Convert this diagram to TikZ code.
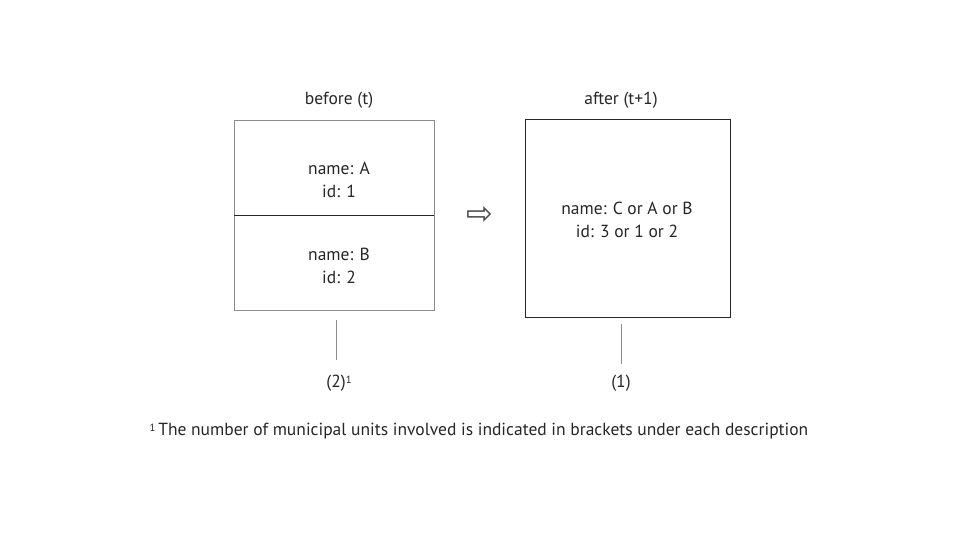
\documentclass[tikz,border=0pt]{standalone}
\usepackage{fontspec}
\setmainfont{PT Sans}
\newfontfamily\symfont{DejaVu Sans}
\begin{document}
\begin{tikzpicture}[x=1pt,y=-1pt,
  lbl/.style={inner sep=0pt,font=\fontsize{17.5}{23}\selectfont,align=center,text=black!85},
  graybox/.style={draw=black!45,line width=0.8pt},
  darkbox/.style={draw=black!85,line width=1pt},
  tick/.style={draw=black!45,line width=0.7pt}]
\useasboundingbox (0,0) rectangle (960,540);
% left box
\node[graybox,minimum width=200pt,minimum height=190pt,inner sep=0pt] (L) at (334,215) {};
\coordinate (Lw) at (234,215);
\coordinate (Le) at (434,215);
\draw[black!85,line width=0.9pt] (Lw) -- (Le);
\node[lbl] (before) at (339,100) {before (t)};
\node[lbl] (a) at (339,180) {name: A\\id: 1};
\node[lbl] (b) at (339,266) {name: B\\id: 2};
% right box
\node[darkbox,minimum width=205pt,minimum height=197pt,inner sep=0pt] (R) at (627.5,218.5) {};
\node[lbl] (after) at (621,100) {after (t+1)};
\node[lbl] (c) at (627,220) {name: C or A or B\\id: 3 or 1 or 2};
% arrow
\node[inner sep=0pt,text=black!70] (arr) at (480,216) {\symfont\fontsize{32}{32}\selectfont ⇨};
% ticks
\coordinate (t1a) at (336,320);
\coordinate (t1b) at (336,360);
\coordinate (t2a) at (621,324);
\coordinate (t2b) at (621,364);
\draw[tick] (t1a) -- (t1b);
\draw[tick] (t2a) -- (t2b);
\node[lbl] (n2) at (339,383) {(2)\raisebox{0.45ex}{\fontsize{10.5}{10}\selectfont 1}};
\node[lbl] (n1) at (621,383) {(1)};
\node[lbl] (foot) at (479,431) {\raisebox{0.45ex}{\fontsize{10.5}{10}\selectfont 1}\,The number of municipal units involved is indicated in brackets under each description};
\end{tikzpicture}
\end{document}
